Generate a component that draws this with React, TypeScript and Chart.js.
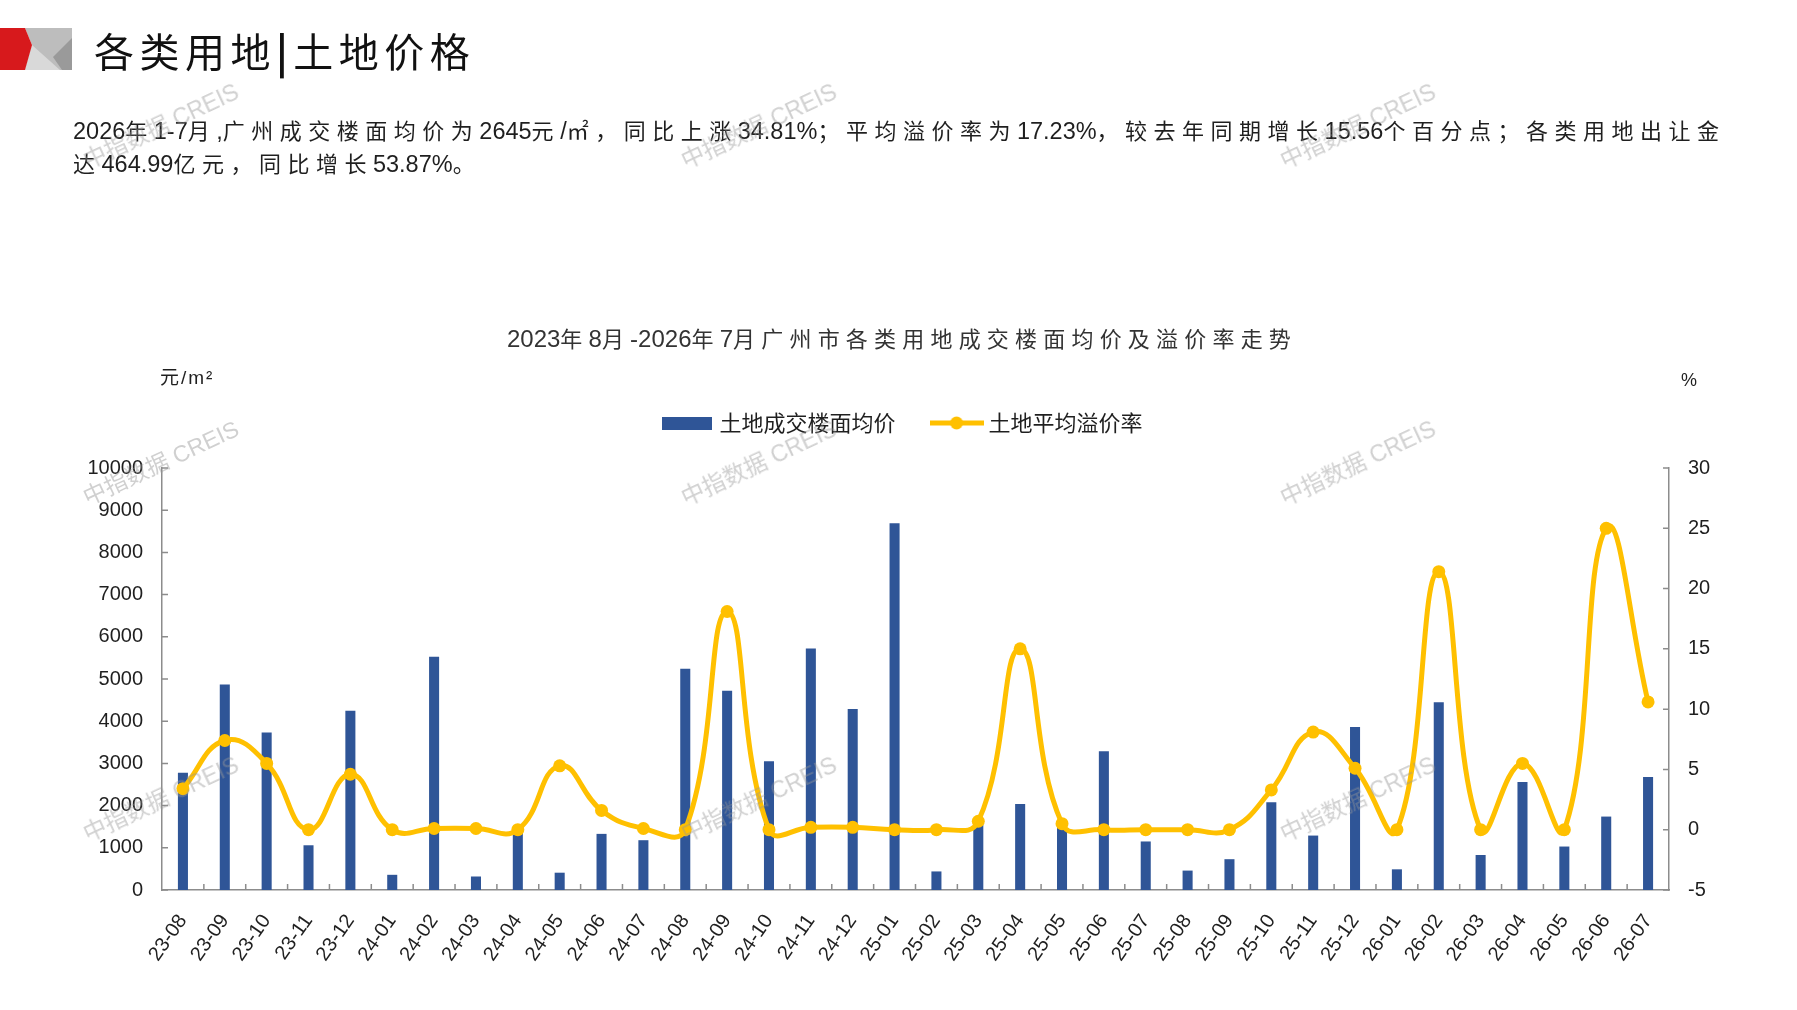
import { useEffect, useRef } from 'react'
import { Chart, registerables, type ChartConfiguration, type Plugin } from 'chart.js'

Chart.register(...registerables)

const months = [
  '23-08', '23-09', '23-10', '23-11', '23-12',
  '24-01', '24-02', '24-03', '24-04', '24-05', '24-06', '24-07', '24-08', '24-09', '24-10', '24-11', '24-12',
  '25-01', '25-02', '25-03', '25-04', '25-05', '25-06', '25-07', '25-08', '25-09', '25-10', '25-11', '25-12',
  '26-01', '26-02', '26-03', '26-04', '26-05', '26-06', '26-07',
]

// 土地成交楼面均价 (元/m²)
const landPrice = [
  2780, 4870, 3730, 1060, 4250,
  360, 5530, 320, 1430, 410, 1330, 1180, 5240, 4720, 3050, 5720, 4290,
  8690, 440, 1550, 2040, 1500, 3290, 1150, 460, 730, 2080, 1290, 3860,
  490, 4450, 830, 2560, 1030, 1740, 2680,
]

// 土地平均溢价率 (%)
const premiumRate = [
  3.4, 7.4, 5.5, 0, 4.6,
  0, 0.1, 0.1, 0, 5.3, 1.6, 0.1, 0, 18.1, 0, 0.2, 0.2,
  0, 0, 0.7, 15, 0.5, 0, 0, 0, 0, 3.3, 8.1, 5.1,
  0, 21.4, 0, 5.5, 0, 25, 10.6,
]

const priceTicks = [0, 1000, 2000, 3000, 4000, 5000, 6000, 7000, 8000, 9000, 10000]
const rateTicks = [-5, 0, 5, 10, 15, 20, 25, 30]

const BLUE = '#2F5597'
const GOLD = '#FFC000'
const AXIS = '#8C8C8C'
const TEXT = '#1F1F1F'
const SANS = "'Liberation Sans', 'Noto Sans CJK SC', sans-serif"
const CJK = "'Noto Sans CJK SC', 'Liberation Sans', sans-serif"

const watermarks = [
  [160, 124], [758, 124], [1357, 124],
  [160, 461], [758, 461], [1357, 461],
  [160, 797], [758, 797], [1357, 797],
]

function swatch(w: number, h: number, draw: (c: CanvasRenderingContext2D) => void) {
  const c = document.createElement('canvas')
  c.width = w
  c.height = h
  draw(c.getContext('2d')!)
  return c
}

// Excel-style short tick marks pointing into the plot
const innerTicks: Plugin = {
  id: 'innerTicks',
  afterDatasetsDraw(chart) {
    const { ctx, chartArea, scales } = chart
    const x = scales.x
    ctx.save()
    ctx.strokeStyle = AXIS
    ctx.lineWidth = 1.5
    ctx.beginPath()
    for (let i = 1; i < months.length; i++) {
      const px = (x.getPixelForValue(i - 1) + x.getPixelForValue(i)) / 2
      ctx.moveTo(px, chartArea.bottom)
      ctx.lineTo(px, chartArea.bottom - 6)
    }
    scales.y.ticks.forEach(t => {
      const py = scales.y.getPixelForValue(t.value)
      ctx.moveTo(chartArea.left, py)
      ctx.lineTo(chartArea.left + 6, py)
    })
    scales.y1.ticks.forEach(t => {
      const py = scales.y1.getPixelForValue(t.value)
      ctx.moveTo(chartArea.right, py)
      ctx.lineTo(chartArea.right - 6, py)
    })
    ctx.stroke()
    ctx.restore()
  },
}

// CJK runs get wide tracking, latin/digit runs stay tight
function Spaced({ text, size, latin, track }: { text: string; size: number; latin: number; track: number }) {
  const runs = text.match(/[\x00-\x7F]+|[^\x00-\x7F]+/g) ?? []
  return (
    <>
      {runs.map((r, i) => /^[\x00-\x7F]/.test(r)
        ? <span key={i} style={{ fontFamily: SANS, fontSize: latin }}>{r}</span>
        : <span key={i} style={{ fontFamily: CJK, fontSize: size, letterSpacing: track }}>{r}</span>)}
    </>
  )
}

function PriceChart() {
  const ref = useRef<HTMLCanvasElement>(null)

  useEffect(() => {
    if (!ref.current) return

    const barSwatch = swatch(50, 13, c => {
      c.fillStyle = BLUE
      c.fillRect(0, 0, 50, 13)
    })
    const lineSwatch = swatch(54, 16, c => {
      c.strokeStyle = GOLD
      c.lineWidth = 5
      c.beginPath()
      c.moveTo(0, 8)
      c.lineTo(54, 8)
      c.stroke()
      c.fillStyle = GOLD
      c.beginPath()
      c.arc(27, 8, 6.5, 0, Math.PI * 2)
      c.fill()
    })

    const tickFont = { family: SANS, size: 20 }

    const config: ChartConfiguration = {
      type: 'bar',
      data: {
        labels: months,
        datasets: [
          {
            type: 'bar',
            label: '土地成交楼面均价',
            data: landPrice,
            yAxisID: 'y',
            backgroundColor: BLUE,
            barPercentage: 1,
            categoryPercentage: 0.24,
            order: 1,
          },
          {
            type: 'line',
            label: '土地平均溢价率',
            data: premiumRate,
            yAxisID: 'y1',
            borderColor: GOLD,
            backgroundColor: GOLD,
            borderWidth: 5,
            tension: 0.45,
            pointRadius: 6.5,
            pointBackgroundColor: GOLD,
            pointBorderWidth: 0,
            order: 0,
          },
        ],
      },
      options: {
        responsive: false,
        animation: false,
        layout: { padding: { top: 372, left: 12, right: 0, bottom: 0 } },
        plugins: {
          tooltip: { enabled: false },
          title: { display: false },
          legend: {
            position: 'top',
            labels: {
              usePointStyle: true,
              pointStyleWidth: 42,
              padding: 40,
              color: TEXT,
              font: { family: CJK, size: 22 },
              generateLabels: ch => ch.data.datasets.map((ds, i) => ({
                text: ds.label as string,
                pointStyle: i === 0 ? barSwatch : lineSwatch,
                fillStyle: 'transparent',
                strokeStyle: 'transparent',
                lineWidth: 0,
                hidden: !ch.isDatasetVisible(i),
                datasetIndex: i,
                fontColor: TEXT,
              })),
            },
          },
          // empty spacer between legend and plot
          subtitle: {
            display: true,
            text: '',
            weight: 500,
            font: { size: 1, lineHeight: 1 },
            padding: { top: 0, bottom: 23 },
          } as any,
        },
        scales: {
          x: {
            type: 'category',
            offset: true,
            grid: { display: false },
            border: { color: AXIS, width: 1.5 },
            ticks: {
              autoSkip: false,
              minRotation: 55,
              maxRotation: 55,
              padding: 12,
              color: TEXT,
              font: tickFont,
            },
            afterFit: s => { s.height = 120 },
          },
          y: {
            position: 'left',
            min: priceTicks[0],
            max: priceTicks[priceTicks.length - 1],
            grid: { display: false },
            border: { color: AXIS, width: 1.5 },
            ticks: {
              stepSize: priceTicks[1] - priceTicks[0],
              padding: 11,
              color: TEXT,
              font: tickFont,
              callback: v => String(v),
            },
            afterFit: s => { s.width = 150 },
          },
          y1: {
            position: 'right',
            min: rateTicks[0],
            max: rateTicks[rateTicks.length - 1],
            grid: { display: false },
            border: { color: AXIS, width: 1.5 },
            ticks: {
              stepSize: rateTicks[1] - rateTicks[0],
              padding: 11,
              color: TEXT,
              font: tickFont,
              callback: v => String(v),
            },
            afterFit: s => { s.width = 128 },
          },
        },
      },
      plugins: [innerTicks],
    }

    const chart = new Chart(ref.current, config)
    return () => chart.destroy()
  }, [])

  return (
    <canvas
      ref={ref}
      width={1797}
      height={1010}
      style={{ position: 'absolute', left: 0, top: 0, width: '1797px', height: '1010px' }}
    />
  )
}

function Logo() {
  return (
    <svg width={72} height={42} viewBox="0 28 72 42" style={{ position: 'absolute', left: 0, top: 28 }}>
      <polygon points="25,28 72,28 72,70 25,70 32,45" fill="#BDBDBD" />
      <polygon points="32,45 60,70 25,70" fill="#D9D9D9" />
      <polygon points="53,57 72,38 72,70 62,70" fill="#9A9A9A" />
      <polygon points="0,28 25,28 32,45 25,70 0,70" fill="#D7191C" />
    </svg>
  )
}

export default function App() {
  return (
    <div style={{ position: 'absolute', left: 0, top: 0, width: 1797, height: 1010, overflow: 'hidden', background: '#fff', color: TEXT }}>
      <PriceChart />
      <Logo />
      <div style={{ position: 'absolute', left: 94, top: 26, fontFamily: CJK, fontSize: 40, lineHeight: '48px', letterSpacing: 5.5, color: '#111' }}>
        各类用地<span style={{ fontWeight: 700 }}>|</span>土地价格
      </div>
      <div style={{ position: 'absolute', left: 73, top: 115, lineHeight: '28px', whiteSpace: 'nowrap' }}>
        <Spaced text="2026年1-7月,广州成交楼面均价为2645元/㎡，同比上涨34.81%；平均溢价率为17.23%，较去年同期增长15.56个百分点；各类用地出让金" size={22} latin={23.5} track={6.5} />
        <br />
        <Spaced text="达464.99亿元，同比增长53.87%。" size={22} latin={23.5} track={6.5} />
      </div>
      <div style={{ position: 'absolute', left: 402, width: 1000, top: 324, textAlign: 'center', lineHeight: '26px', color: '#333', whiteSpace: 'nowrap' }}>
        <Spaced text="2023年8月-2026年7月广州市各类用地成交楼面均价及溢价率走势" size={22} latin={24} track={6.2} />
      </div>
      <div style={{ position: 'absolute', left: 160, top: 367, fontFamily: SANS, fontSize: 19, lineHeight: '22px', letterSpacing: 2 }}>元/m²</div>
      <div style={{ position: 'absolute', left: 1681, top: 369, fontFamily: SANS, fontSize: 18, lineHeight: '22px' }}>%</div>
      {watermarks.map(([cx, cy], i) => (
        <div
          key={i}
          style={{
            position: 'absolute', left: cx, top: cy,
            transform: 'translate(-50%, -50%) rotate(-25deg)',
            whiteSpace: 'nowrap', fontFamily: SANS, fontSize: 23,
            color: 'rgba(150,150,150,0.45)', pointerEvents: 'none',
          }}
        >
          中指数据 CREIS
        </div>
      ))}
    </div>
  )
}
